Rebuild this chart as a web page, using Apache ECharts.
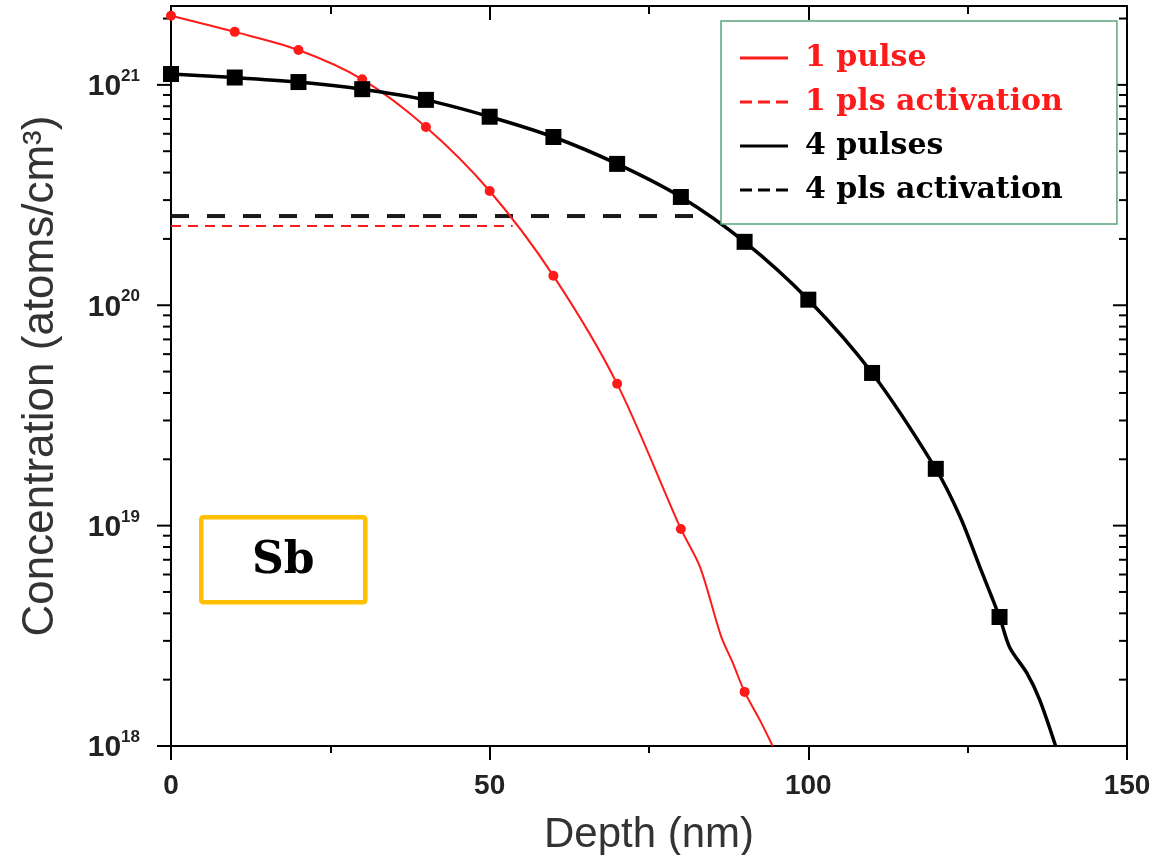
<!DOCTYPE html>
<html>
<head>
<meta charset="utf-8">
<title>Sb depth profile</title>
<script src="https://cdn.jsdelivr.net/npm/echarts@6/dist/echarts.min.js"></script>
<style>
  html, body { margin: 0; padding: 0; background: #fff; }
  #chart { width: 1161px; height: 855px; }
</style>
</head>
<body>
<div id="chart"></div>
<script>
const depthMarks1 = [0, 10, 20, 30, 40, 50, 60, 70, 80, 90];
const conc1 = [2.06e21, 1.74e21, 1.44e21, 1.06e21, 6.44e20, 3.30e20, 1.36e20, 4.40e19, 9.66e18, 1.76e18];
const depthExtra1 = [83, 86.3, 88.1, 92.4, 94.4];
const concExtra1 = [6.5e18, 3.15e18, 2.4e18, 1.31e18, 1.0e18];

// 4 pulses
const depthMarks4 = [0, 10, 20, 30, 40, 50, 60, 70, 80, 90, 100, 110, 120, 130];
const conc4 = [1.12e21, 1.08e21, 1.03e21, 9.56e20, 8.55e20, 7.17e20, 5.80e20, 4.38e20, 3.10e20, 1.94e20, 1.06e20, 4.93e19, 1.81e19, 3.85e18];
const depthExtra4 = [123.8, 126.9, 131.6, 134.3, 136.3, 138.8];
const concExtra4 = [1.1e19, 6.5e18, 2.8e18, 2.14e18, 1.62e18, 1.0e18];

// activation levels (horizontal dashed lines)
const act1Depth = [0, 53.6];
const act1Conc = 2.29e20;
const act4Depth = [0, 83.4];
const act4Conc = 2.54e20;

// axes
const xMin = 0, xMax = 150;
const yMin = 1e18, yMax = 2.28e21;
const majorTicks = [1e18, 1e19, 1e20, 1e21];
const minorSteps = [2, 3, 4, 5, 6, 7, 8, 9];

const colors = {
  red: "#ff1a1a",
  black: "#000000",
  text: "#222222",
  legendBorder: "#5aa57c",
  sbBorder: "#ffc000",
};

const sans = "'Liberation Sans', Arial, sans-serif";
const serif = "'DejaVu Serif', serif";

const pairs = (xs, ys) => xs.map((x, i) => [x, ys[i]]);
const curve = (xs, ys, ex, ey) =>
  pairs(xs, ys).concat(pairs(ex, ey)).sort((a, b) => a[0] - b[0]);

const yTicks = [];
majorTicks.forEach((m) => {
  yTicks.push(m);
  minorSteps.forEach((k) => {
    if (m * k <= yMax) yTicks.push(m * k);
  });
});

const solidIcon = "path://M0,0h48v3h-48z";
const dashIcon = "path://M0,0h12v3h-12zM18,0h12v3h-12zM36,0h12v3h-12z";

const chart = echarts.init(document.getElementById("chart"), null, { renderer: "canvas" });

const option = {
  animation: false,
  backgroundColor: "#ffffff",
  grid: {
    left: 171,
    right: 34,
    top: 6,
    bottom: 109,
    outerBoundsMode: "none",
    show: true,
    borderColor: "#000",
    borderWidth: 2,
  },
  legend: {
    orient: "vertical",
    left: 721,
    top: 21,
    padding: [20, 54, 17, 19],
    backgroundColor: "#ffffff",
    borderColor: colors.legendBorder,
    borderWidth: 1.5,
    itemWidth: 48,
    itemHeight: 3,
    itemGap: 10,
    symbolKeepAspect: false,
    selectedMode: false,
    textStyle: {
      fontFamily: serif,
      fontWeight: "bold",
      fontSize: 30,
      lineHeight: 34,
      padding: [0, 0, 0, 12],
    },
    data: [
      { name: "1 pulse", icon: solidIcon, textStyle: { color: colors.red } },
      { name: "1 pls activation", icon: dashIcon, textStyle: { color: colors.red } },
      { name: "4 pulses", icon: solidIcon, textStyle: { color: colors.black } },
      { name: "4 pls activation", icon: dashIcon, textStyle: { color: colors.black } },
    ],
  },
  xAxis: [
    {
      type: "value",
      min: xMin,
      max: xMax,
      interval: 50,
      name: "Depth (nm)",
      nameLocation: "middle",
      nameGap: 68,
      nameTextStyle: { fontFamily: sans, fontSize: 42, color: "#333" },
      axisLine: { show: true, lineStyle: { color: "#000", width: 2 } },
      axisTick: { show: true, length: 14, lineStyle: { color: "#000", width: 2 } },
      minorTick: { show: true, splitNumber: 2, length: 7, lineStyle: { color: "#000", width: 2 } },
      axisLabel: {
        margin: 26,
        fontFamily: sans,
        fontWeight: "bold",
        fontSize: 28,
        color: colors.text,
      },
      splitLine: { show: false },
    },
    {
      type: "value",
      position: "top",
      min: xMin,
      max: xMax,
      interval: 50,
      axisLine: { show: true, lineStyle: { color: "#000", width: 2 } },
      axisTick: { show: true, inside: true, length: 14, lineStyle: { color: "#000", width: 2 } },
      minorTick: { show: true, splitNumber: 2, length: 8, lineStyle: { color: "#000", width: 2 } },
      axisLabel: { show: false },
      splitLine: { show: false },
    },
  ],
  yAxis: {
    type: "log",
    logBase: 10,
    min: yMin,
    max: yMax,
    name: "Concentration (atoms/cm³)",
    nameLocation: "middle",
    nameRotate: 90,
    nameGap: 108,
    nameTextStyle: { fontFamily: sans, fontSize: 44, color: "#333" },
    axisLine: { show: true, lineStyle: { color: "#000", width: 2 } },
    axisTick: { show: false },
    splitLine: { show: false },
    axisLabel: {
      margin: 31,
      showMaxLabel: false,
      formatter: (v) => {
        const l = Math.log10(v);
        const e = Math.round(l);
        if (Math.abs(l - e) > 1e-6) return "";
        return "{b|10}{s|" + e + "}";
      },
      rich: {
        b: { fontFamily: sans, fontWeight: "bold", fontSize: 30, color: colors.text, lineHeight: 34, verticalAlign: "bottom" },
        s: { fontFamily: sans, fontWeight: "bold", fontSize: 17, color: colors.text, lineHeight: 17, verticalAlign: "top" },
      },
    },
  },
  series: [
    {
      // minor / major ticks of the log axis on both frame sides
      type: "custom",
      silent: true,
      data: yTicks.map((v) => [xMin, v]),
      renderItem: (params, api) => {
        const v = api.value(1);
        const len = majorTicks.includes(v) ? 14 : 8;
        const l = api.coord([xMin, v]);
        const r = api.coord([xMax, v]);
        const st = { stroke: "#000", lineWidth: 2 };
        return {
          type: "group",
          children: [
            { type: "line", shape: { x1: l[0] - len, y1: l[1], x2: l[0], y2: l[1] }, style: st },
            { type: "line", shape: { x1: r[0] - len, y1: r[1], x2: r[0], y2: r[1] }, style: st },
          ],
        };
      },
      z: 1,
    },
    {
      name: "1 pls activation",
      type: "line",
      data: act1Depth.map((x) => [x, act1Conc]),
      showSymbol: false,
      lineStyle: { color: colors.red, width: 2, type: [10, 7] },
      itemStyle: { color: colors.red },
      z: 2,
    },
    {
      name: "4 pls activation",
      type: "line",
      data: act4Depth.map((x) => [x, act4Conc]),
      showSymbol: false,
      lineStyle: { color: "#1a1a1a", width: 4, type: [18, 18] },
      itemStyle: { color: colors.black },
      z: 2,
    },
    {
      name: "1 pulse",
      type: "line",
      data: curve(depthMarks1, conc1, depthExtra1, concExtra1),
      showSymbol: false,
      smooth: 0.3,
      lineStyle: { color: colors.red, width: 2 },
      itemStyle: { color: colors.red },
      z: 3,
    },
    {
      type: "scatter",
      data: pairs(depthMarks1, conc1),
      symbol: "circle",
      symbolSize: 10,
      itemStyle: { color: colors.red, opacity: 1 },
      z: 4,
    },
    {
      name: "4 pulses",
      type: "line",
      data: curve(depthMarks4, conc4, depthExtra4, concExtra4),
      showSymbol: false,
      smooth: 0.3,
      lineStyle: { color: colors.black, width: 3.5 },
      itemStyle: { color: colors.black },
      z: 3,
    },
    {
      type: "scatter",
      data: pairs(depthMarks4, conc4),
      symbol: "rect",
      symbolSize: 16,
      itemStyle: { color: colors.black, opacity: 1 },
      z: 4,
    },
  ],
  graphic: [
    {
      type: "group",
      left: 199,
      top: 515,
      children: [
        {
          type: "rect",
          shape: { x: 0, y: 0, width: 164, height: 85, r: 2 },
          style: { fill: "#fff", stroke: colors.sbBorder, lineWidth: 4.5 },
        },
        {
          type: "text",
          x: 82,
          y: 44,
          style: {
            text: "Sb",
            fontFamily: serif,
            fontWeight: "bold",
            fontSize: 44,
            fill: "#000",
            align: "center",
            verticalAlign: "middle",
          },
        },
      ],
    },
  ],
};

chart.setOption(option);
window.addEventListener("resize", () => chart.resize());
</script>
</body>
</html>
